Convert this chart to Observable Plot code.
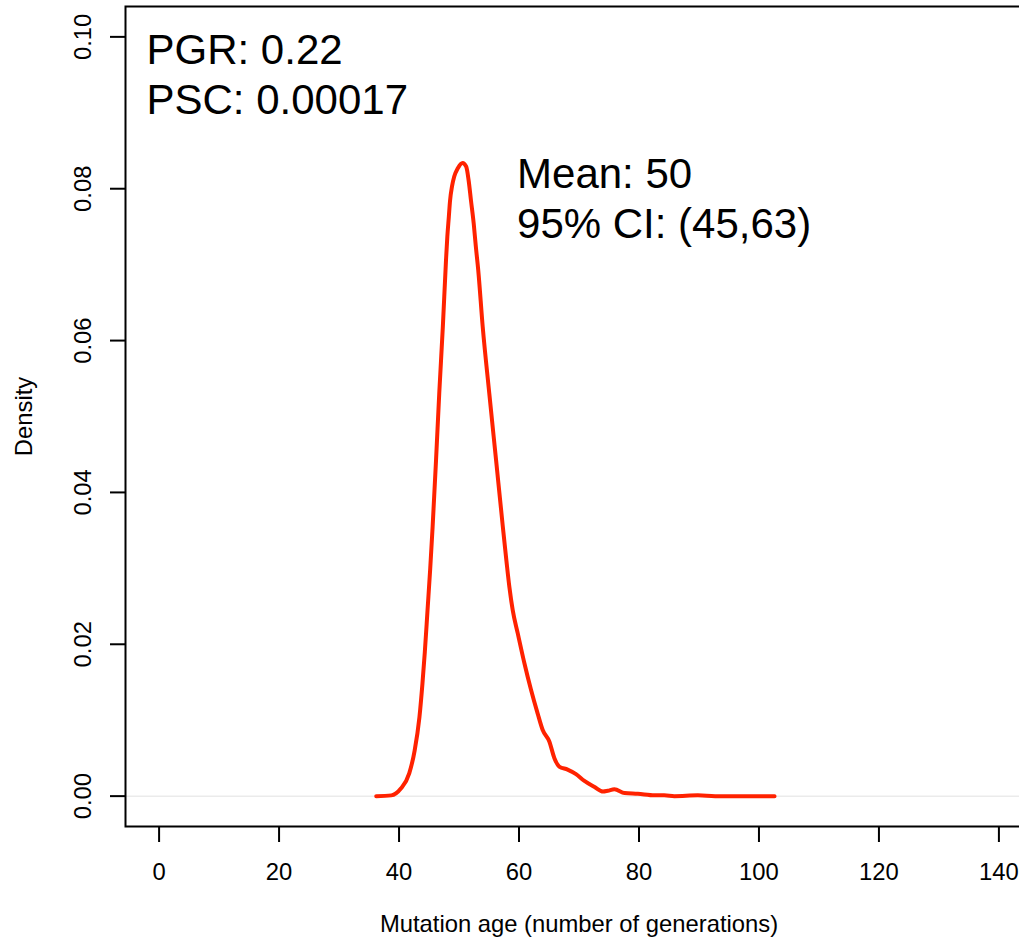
<!DOCTYPE html>
<html>
<head>
<meta charset="utf-8">
<script src="https://cdn.jsdelivr.net/npm/d3@7"></script>
<script src="https://cdn.jsdelivr.net/npm/@observablehq/plot@0.6"></script>
<style>
  html, body { margin: 0; padding: 0; background: white; overflow: hidden; }
  #chart svg { font-family: "Liberation Sans", Arial, Helvetica, sans-serif; }
</style>
</head>
<body>
<div id="chart"></div>
<script>
// ---- data ----
const ageX = [36.2, 38.7, 40.3, 41.7, 42.6, 43.4, 43.9, 44.3, 44.75, 45.2, 45.6, 46.17, 46.7, 47.3, 47.83, 48.05, 48.3, 48.5, 48.83, 49.2, 49.8, 50.6, 51.2, 51.6, 52.0, 52.45, 52.8, 53.2, 53.95, 55.05, 56.17, 57.3, 57.9, 58.4, 58.95, 59.8, 60.9, 62.0, 63.1, 63.95, 65.05, 65.9, 66.7, 68.1, 69.5, 70.9, 72.6, 74.0, 74.8, 75.9, 77.6, 79.8, 82.6, 84.2, 85.9, 89.8, 92.7, 96.0, 99.5, 102.6];
const densityY = [0.0000, 0.0001, 0.0010, 0.0030, 0.0060, 0.0104, 0.0148, 0.0190, 0.0245, 0.0300, 0.0355, 0.0443, 0.0530, 0.0618, 0.0706, 0.0737, 0.0763, 0.0784, 0.0803, 0.0816, 0.0827, 0.0834, 0.0829, 0.0811, 0.0784, 0.0754, 0.0724, 0.0693, 0.0618, 0.0530, 0.0443, 0.0355, 0.0310, 0.0275, 0.0245, 0.0214, 0.0175, 0.0140, 0.0109, 0.0087, 0.0072, 0.0050, 0.0039, 0.0035, 0.0029, 0.0020, 0.0012, 0.0006, 0.0007, 0.0009, 0.0004, 0.0003, 0.0001, 0.0001, 0.0000, 0.0001, 0.0000, 0.0000, 0.0000, 0.0000];
const xTicks = [0, 20, 40, 60, 80, 100, 120, 140];
const yTicks = [0.00, 0.02, 0.04, 0.06, 0.08, 0.10];
const xLabel = "Mutation age (number of generations)";
const yLabel = "Density";
const topLeftText = ["PGR: 0.22", "PSC: 0.00017"];
const statsText = ["Mean: 50", "95% CI: (45,63)"];

// ---- chart ----
const curve = ageX.map((x, i) => ({x, y: densityY[i]}));
const xDomain = [-5.6, 145.6];
const yDomain = [-0.004, 0.104];

const chart = Plot.plot({
  width: 1019,
  height: 942,
  marginLeft: 125,
  marginRight: -13,
  marginTop: 6,
  marginBottom: 116,
  style: {fontSize: "23.8px", fontFamily: "Liberation Sans, Arial, Helvetica, sans-serif", color: "black", background: "white"},
  x: {domain: xDomain},
  y: {domain: yDomain},
  marks: [
    Plot.ruleY([0], {stroke: "#ebebeb", strokeWidth: 1.5}),
    Plot.line(curve, {x: "x", y: "y", stroke: "#ff2200", strokeWidth: 4, curve: "monotone-x"}),
    Plot.frame({stroke: "black", strokeWidth: 2}),
    Plot.axisX({ticks: xTicks, tickSize: 16, tickPadding: 21, tickFormat: d => String(d), strokeWidth: 2,
      label: xLabel, labelAnchor: "center", labelArrow: "none", labelOffset: 105}),
    Plot.axisY({ticks: yTicks, tickSize: 15, tickPadding: 20, tickRotate: -90, tickFormat: d3.format(".2f"), strokeWidth: 2,
      label: yLabel, labelAnchor: "center", labelArrow: "none", labelOffset: 110}),
    Plot.text([topLeftText.join("\n")], {frameAnchor: "top-left", dx: 21, dy: 22, text: d => d,
      textAnchor: "start", lineAnchor: "top", lineHeight: 1.19, fontSize: 42, fill: "black"}),
    Plot.text([statsText.join("\n")], {x: () => 59.67, y: () => 0.0848, text: d => d,
      textAnchor: "start", lineAnchor: "top", lineHeight: 1.19, fontSize: 42, fill: "black"})
  ]
});
document.getElementById("chart").appendChild(chart);
</script>
</body>
</html>
